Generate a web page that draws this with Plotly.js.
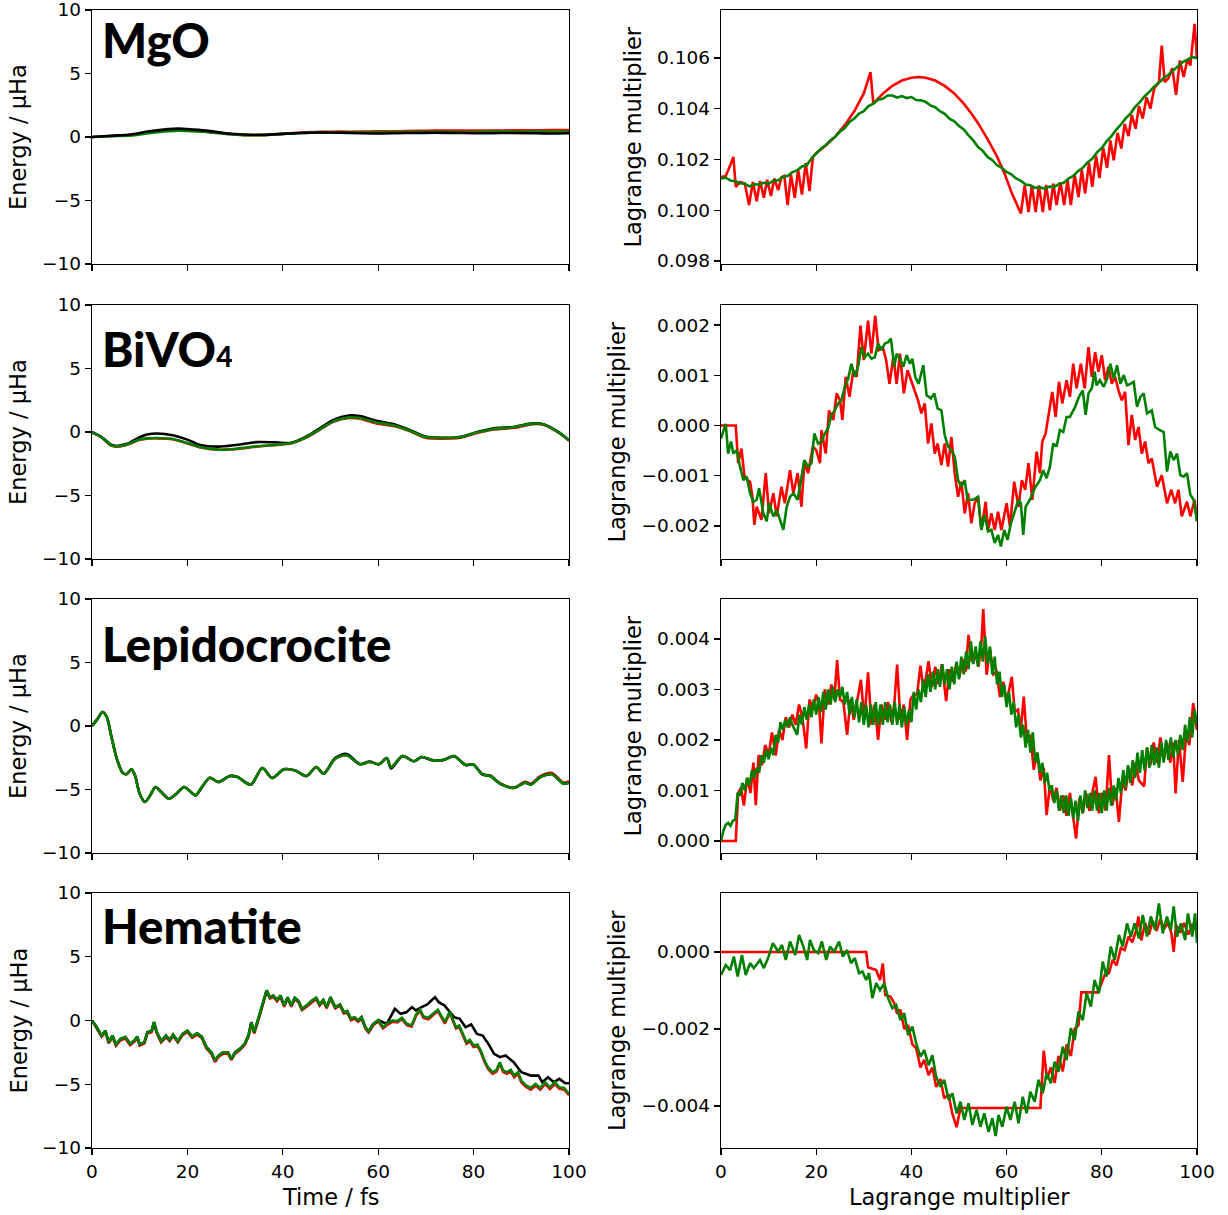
<!DOCTYPE html>
<html><head><meta charset="utf-8">
<script src="https://cdn.plot.ly/plotly-3.0.1.min.js"></script>
<style>html,body{margin:0;padding:0;background:#fff}#chart{width:1228px;height:1215px}</style>
</head><body><div id="chart"></div>
<script>
// ---------- tick labels / categories ----------
const timeTicks = [0, 20, 40, 60, 80, 100];
const energyTicks = [-10, -5, 0, 5, 10];
const materials = ['MgO', 'BiVO<span style="font-size:28px">4</span>', 'Lepidocrocite', 'Hematite'];

function grid(a, b, s) { const o = []; for (let v = a; v <= b + 1e-9; v += s) o.push(Math.round(v * 100) / 100); return o; }

// ---------- MgO : energy ----------
const mgoEx = [0,4,8,12,16,18,20,24,28,32,36,40,44,48,52,56,60,64,68,72,76,80,84,88,92,96,100];
const mgoEred = [0,0.08,0.15,0.35,0.5,0.52,0.5,0.42,0.25,0.15,0.15,0.25,0.35,0.4,0.42,0.42,0.45,0.45,0.48,0.5,0.5,0.5,0.5,0.52,0.52,0.55,0.55];
const mgoEgreen = [0,0.06,0.12,0.3,0.45,0.5,0.48,0.4,0.25,0.15,0.15,0.25,0.32,0.36,0.37,0.37,0.38,0.38,0.4,0.4,0.4,0.4,0.42,0.42,0.42,0.43,0.43];
const mgoEblack = [0,0.1,0.2,0.45,0.62,0.66,0.62,0.5,0.3,0.2,0.18,0.25,0.32,0.35,0.33,0.3,0.28,0.3,0.32,0.33,0.32,0.3,0.3,0.32,0.3,0.28,0.3];

// ---------- MgO : Lagrange multiplier ----------
const mgoLredX = [0,1,2,2.6,3.1,4,5,5.9,6.7,7.5,8.2,9,9.7,10.5,11.2,12,12.7,13.3,14,14.7,15.5,16.2,17,17.8,18.6,19.3,20,22,24,26,28,30,31.4,32,34,36,38,40,41.5,43,45,47,49,51,52.6,54,56,58,59.6,61,63,63.8,64.6,65.3,66.1,66.8,67.6,68.3,69.1,69.8,70.5,71.3,72.1,72.8,73.5,74.3,75.1,75.8,76.5,77.3,78,78.8,79.5,80.3,81.1,81.8,82.5,83.3,84.1,84.8,85.6,86.3,87.1,87.8,88.6,89.4,90.2,91,92,92.6,93.2,94,94.8,95.6,96.4,97.2,98,98.6,99.5,100];
const mgoLred = [0.10131,0.10135,0.1018,0.1021,0.10092,0.10111,0.10105,0.1002,0.10111,0.10035,0.10115,0.10049,0.1012,0.10056,0.10125,0.10079,0.1013,0.10135,0.1002,0.1014,0.10049,0.1016,0.10062,0.10185,0.10075,0.1021,0.10225,0.10255,0.1029,0.10335,0.1039,0.1046,0.10544,0.1042,0.10459,0.1049,0.10511,0.10522,0.10525,0.10522,0.10511,0.1049,0.1046,0.1042,0.10381,0.10343,0.1028,0.10211,0.10143,0.10072,0.09987,0.10098,0.09993,0.10098,0.09993,0.10098,0.09993,0.101,0.1,0.10105,0.1002,0.1011,0.1002,0.1012,0.1002,0.1014,0.10052,0.1016,0.10066,0.10185,0.10092,0.10215,0.10127,0.10245,0.10167,0.10275,0.10197,0.10305,0.10243,0.1034,0.10292,0.10375,0.10321,0.1041,0.10361,0.10445,0.104,0.1048,0.10505,0.10649,0.10505,0.1052,0.1056,0.10455,0.1059,0.10525,0.10595,0.1057,0.10734,0.10597];
const mgoLgreenX = grid(0, 100, 1);
const mgoLgreen = [0.10125,0.10128,0.10117,0.10114,0.10106,0.10104,0.10094,0.10102,0.10101,0.10108,0.10105,0.10116,0.10118,0.10131,0.10135,0.1015,0.10157,0.10172,0.10177,0.10204,0.10223,0.10243,0.10256,0.10276,0.10289,0.1031,0.10324,0.10348,0.10361,0.10381,0.1039,0.1041,0.1042,0.10435,0.10439,0.10452,0.10452,0.10444,0.1045,0.10442,0.10446,0.10434,0.10433,0.10427,0.10413,0.10406,0.1039,0.1038,0.10361,0.1035,0.10332,0.10318,0.10295,0.10275,0.10249,0.10234,0.1021,0.10197,0.10177,0.10167,0.10151,0.10141,0.10125,0.10116,0.10101,0.10098,0.10088,0.1009,0.10085,0.10093,0.10092,0.10103,0.10108,0.10125,0.10135,0.10154,0.10167,0.10188,0.10203,0.10228,0.10245,0.10271,0.10291,0.10317,0.10337,0.10362,0.1038,0.10407,0.10426,0.10449,0.10466,0.10488,0.10502,0.10521,0.10534,0.10552,0.10567,0.10584,0.10593,0.10604,0.10599];

// ---------- BiVO4 : energy ----------
const bivoEx = [0,2,4,5.2,7.2,10,11.5,13.7,16.9,20,22.5,26.5,30.5,34.5,38.6,41.8,45,48.2,50.6,53.8,56.2,59.4,63.5,66.7,69.9,73.1,77.1,80.3,84.3,88.4,92.4,94.8,98,100];
const bivoEred = [-0.05,-0.42,-1.07,-1.15,-1.02,-0.62,-0.52,-0.5,-0.57,-0.9,-1.2,-1.4,-1.33,-1.15,-1.02,-0.88,-0.42,0.28,0.8,1.1,1.05,0.7,0.45,0.05,-0.45,-0.52,-0.45,-0.12,0.2,0.33,0.62,0.55,-0.1,-0.68];
const bivoEgreen = [-0.05,-0.4,-1.05,-1.13,-1.0,-0.6,-0.5,-0.47,-0.55,-0.87,-1.18,-1.39,-1.31,-1.13,-1.0,-0.87,-0.4,0.31,0.84,1.15,1.1,0.76,0.5,0.1,-0.4,-0.47,-0.4,-0.08,0.24,0.37,0.66,0.58,-0.08,-0.66];
const bivoEblack = [0,-0.4,-1.0,-1.1,-0.95,-0.4,-0.2,-0.12,-0.25,-0.6,-1.0,-1.15,-1.0,-0.8,-0.82,-0.85,-0.35,0.4,0.95,1.3,1.25,0.9,0.6,0.15,-0.35,-0.45,-0.4,-0.05,0.3,0.4,0.68,0.6,-0.05,-0.66];

// ---------- BiVO4 : Lagrange multiplier ----------
const bivoLredX = [0,1,2,3.1,3.6,4.3,4.9,5.6,6.1,6.6,7,7.5,8.5,9.4,10.1,11,11.7,12.7,13.4,14.5,15.2,16.1,16.9,17.5,18.3,19.3,20,20.8,21.1,22,22.7,23.6,24.3,25,25.5,26.2,27,27.8,28.5,29.3,30,30.9,31.6,32.4,33.1,34,34.7,35.4,36.2,36.9,37.6,38.4,39.2,39.9,40.6,41.4,42.1,42.8,43.5,44.2,44.9,45.5,46.3,47,47.7,48.4,49.1,49.8,50.5,51.2,51.9,52.6,53.3,54,54.7,55.6,56.1,56.8,57.5,58.2,58.9,60,60.7,61.6,62.5,63.2,63.9,64.6,65.4,66.3,67,67.5,68.2,68.9,69.6,70.3,71,71.7,72.6,73.3,74,74.7,75.6,76.4,77.2,77.9,78.6,79.3,80,80.7,81.4,82.1,82.8,83.5,84.2,84.9,85.6,86.3,87,87.7,88.4,89.1,89.8,90.5,91.6,92.6,93.7,94.6,95.4,96.1,96.8,97.9,98.6,99.5,100];
const bivoLred = [0,0,0,0,-0.75e-3,-0.46e-3,-0.99e-3,-1.09e-3,-1.12e-3,-1.42e-3,-1.98e-3,-1.62e-3,-1.88e-3,-0.95e-3,-1.75e-3,-1.35e-3,-1.81e-3,-1.22e-3,-1.55e-3,-0.89e-3,-1.35e-3,-0.95e-3,-1.62e-3,-0.75e-3,-0.95e-3,-0.42e-3,-0.49e-3,-0.75e-3,-0.09e-3,-0.56e-3,0.3e-3,0.11e-3,0.64e-3,0.5e-3,0.11e-3,0.97e-3,0.57e-3,1.1e-3,0.97e-3,1.99e-3,1.3e-3,2.09e-3,1.43e-3,2.19e-3,1.5e-3,1.56e-3,1.3e-3,0.83e-3,1.36e-3,0.83e-3,1.43e-3,0.64e-3,1.1e-3,0.9e-3,0.7e-3,0.5e-3,0.24e-3,0.44e-3,-0.36e-3,0.04e-3,-0.56e-3,-0.36e-3,-0.79e-3,-0.36e-3,-0.82e-3,-0.23e-3,-0.95e-3,-1.42e-3,-1.12e-3,-1.75e-3,-1.35e-3,-1.95e-3,-1.55e-3,-1.42e-3,-2.08e-3,-1.52e-3,-2.08e-3,-1.75e-3,-2.08e-3,-1.72e-3,-2.08e-3,-1.55e-3,-2.01e-3,-1.12e-3,-1.62e-3,-1.09e-3,-1.28e-3,-0.75e-3,-1.48e-3,-0.52e-3,-0.95e-3,-0.32e-3,-0.16e-3,0.24e-3,0.67e-3,0.17e-3,0.87e-3,0.44e-3,0.9e-3,0.57e-3,1.23e-3,0.74e-3,1.23e-3,0.74e-3,1.56e-3,0.97e-3,1.46e-3,1.07e-3,1.4e-3,0.9e-3,1.17e-3,0.83e-3,0.97e-3,0.7e-3,0.5e-3,0.67e-3,-0.39e-3,0.21e-3,-0.29e-3,-0.03e-3,-0.56e-3,-0.32e-3,-0.75e-3,-0.66e-3,-1.22e-3,-0.99e-3,-1.55e-3,-1.28e-3,-1.55e-3,-1.28e-3,-1.81e-3,-1.52e-3,-1.81e-3,-1.48e-3,-1.91e-3];
const bivoLgreenX = [0,0.5,1,1.5,2.1,2.6,3.3,4,4.7,5.4,6.1,6.8,7.5,8,8.9,9.6,10.1,11,11.7,12.4,13.1,13.8,14.5,15.2,16.1,16.8,17.5,18.3,19,19.6,20.4,21.1,21.8,22.5,23.2,23.9,24.6,25.3,26,26.7,27.4,28.1,28.8,29.5,30.2,30.9,31.6,32.3,33,33.7,34.4,35.1,35.7,36.4,36.9,37.6,38.3,39,39.7,40.2,40.8,41.5,42.5,43.2,44.1,44.8,45.5,46.3,47,47.7,48.4,49.1,49.8,50.5,51.2,51.8,53,54,54.7,55.4,56.1,56.8,57.5,58.2,58.8,59.5,60.2,60.9,61.6,62.5,63,63.5,64,64.9,65.9,67,67.7,68.4,69.1,69.8,70.5,71.2,71.9,72.6,73.3,74.4,75.2,76,76.6,77.2,77.9,78.5,78.9,79.6,80.4,81.1,81.8,82.5,83.2,83.9,84.6,85.3,86,86.7,87.4,88.1,88.8,89.5,90.5,91.2,92.1,93,93.7,94.4,95.1,95.8,96.5,97.2,97.9,98.6,99.3,100];
const bivoLgreen = [-0.26e-3,-0.09e-3,0.03e-3,-0.56e-3,-0.32e-3,-0.56e-3,-0.49e-3,-0.82e-3,-1.09e-3,-1.02e-3,-1.35e-3,-1.52e-3,-1.48e-3,-1.25e-3,-1.75e-3,-1.91e-3,-1.55e-3,-1.81e-3,-1.68e-3,-1.88e-3,-2.08e-3,-1.62e-3,-1.42e-3,-1.35e-3,-1.48e-3,-1.09e-3,-0.69e-3,-0.82e-3,-0.75e-3,-0.16e-3,-0.36e-3,-0.32e-3,-0.16e-3,-0.06e-3,0.21e-3,0.3e-3,0.44e-3,0.5e-3,0.77e-3,0.93e-3,1.23e-3,0.97e-3,1.17e-3,1.56e-3,1.36e-3,1.43e-3,1.33e-3,1.36e-3,1.63e-3,1.5e-3,1.63e-3,1.66e-3,1.73e-3,1.17e-3,1.43e-3,1.33e-3,1.17e-3,1.4e-3,1.23e-3,1.33e-3,0.97e-3,0.83e-3,1.2e-3,0.6e-3,0.54e-3,0.64e-3,0.34e-3,0.3e-3,-0.19e-3,-0.42e-3,-0.49e-3,-0.62e-3,-1.09e-3,-1.22e-3,-1.09e-3,-1.48e-3,-1.48e-3,-1.42e-3,-2.08e-3,-1.78e-3,-2.11e-3,-2.08e-3,-2.34e-3,-2.18e-3,-2.41e-3,-2.08e-3,-2.28e-3,-1.95e-3,-1.75e-3,-1.48e-3,-1.55e-3,-2.18e-3,-1.62e-3,-1.48e-3,-1.25e-3,-1.09e-3,-0.89e-3,-1.05e-3,-0.82e-3,-0.36e-3,-0.42e-3,-0.09e-3,-0.13e-3,0.17e-3,0.17e-3,0.37e-3,0.57e-3,0.7e-3,0.21e-3,0.64e-3,0.74e-3,1.07e-3,0.8e-3,0.9e-3,0.77e-3,0.93e-3,1.23e-3,0.93e-3,1.2e-3,0.83e-3,1.0e-3,0.8e-3,0.83e-3,0.87e-3,0.37e-3,0.57e-3,0.64e-3,0.24e-3,0.3e-3,-0.03e-3,-0.09e-3,-0.13e-3,-0.92e-3,-0.52e-3,-0.69e-3,-0.56e-3,-0.99e-3,-1.02e-3,-0.95e-3,-1.38e-3,-1.48e-3,-1.91e-3];

// ---------- Lepidocrocite : energy ----------
const lepiEx = [0,1.2,2.2,3.1,4,5.2,6.4,7.2,8.3,9,10,11.1,12.2,13.3,14.5,16.1,17.7,19.3,20.5,21.7,23.3,24.7,26.5,28.9,30.5,33.3,35.7,37.8,40.2,42.6,45,47,48.6,51,53.4,56.2,58.2,60.2,61.8,62.7,65.1,67.5,69.1,71.5,73.9,75.9,78.3,79.9,81.9,83.5,85.5,88.4,90.8,92,94,96.4,98.8,100];
const lepiEred = [0,0.58,1.1,0.71,-0.73,-2.57,-3.67,-3.8,-3.41,-3.88,-5.33,-5.98,-5.46,-4.8,-5.2,-5.72,-5.33,-4.8,-5.12,-5.46,-4.67,-4.07,-4.41,-3.94,-4.02,-4.62,-3.31,-4.1,-3.41,-3.5,-3.94,-3.23,-3.75,-2.57,-2.31,-3.02,-2.83,-3.02,-2.52,-3.23,-2.36,-2.78,-2.44,-2.7,-2.65,-2.36,-3.07,-3.02,-3.8,-3.9,-4.5,-4.85,-4.4,-4.55,-3.95,-3.7,-4.45,-4.35];
const lepiEgreen = [0,0.58,1.1,0.71,-0.73,-2.57,-3.67,-3.8,-3.41,-3.88,-5.33,-5.98,-5.46,-4.8,-5.2,-5.72,-5.33,-4.8,-5.12,-5.46,-4.67,-4.07,-4.41,-3.94,-4.02,-4.62,-3.31,-4.1,-3.41,-3.5,-3.94,-3.23,-3.75,-2.57,-2.31,-3.02,-2.83,-3.02,-2.52,-3.23,-2.36,-2.78,-2.44,-2.7,-2.65,-2.36,-3.07,-3.02,-3.83,-3.94,-4.54,-4.88,-4.46,-4.62,-4.02,-3.8,-4.54,-4.49];
const lepiEblack = [0,0.58,1.1,0.71,-0.73,-2.57,-3.67,-3.8,-3.41,-3.88,-5.33,-5.98,-5.46,-4.8,-5.2,-5.72,-5.33,-4.8,-5.12,-5.46,-4.67,-4.07,-4.41,-3.94,-4.02,-4.62,-3.31,-4.1,-3.41,-3.5,-3.94,-3.23,-3.75,-2.5,-2.2,-3.0,-2.8,-3.0,-2.52,-3.35,-2.36,-2.78,-2.44,-2.7,-2.65,-2.36,-3.07,-3.02,-3.83,-3.94,-4.54,-4.88,-4.46,-4.62,-4.02,-3.8,-4.54,-4.49];

// ---------- Lepidocrocite : Lagrange multiplier ----------
const lepiLredX = [0,1,2,3.1,3.6,4.2,4.8,5.5,6.2,6.8,7.3,7.9,8.6,9.3,10,10.7,11.5,12.2,12.9,13.6,14.3,15,15.7,16.4,17.1,17.9,18.6,19.3,20,20.6,21.1,21.8,22.5,23.2,23.8,24.4,25,25.7,26.5,27.2,27.9,28.6,29.4,30.1,30.9,31.6,32.3,33,33.7,34.4,35.1,35.8,36.4,37,37.7,38.4,39.1,39.8,40.5,41.2,41.9,42.6,43.6,44.3,45,45.7,46.4,47.3,48,48.7,49.4,50.1,50.8,51.4,52,52.7,53.4,54.1,54.7,55.1,55.8,56.5,57.2,57.9,58.6,59.3,60,61.1,61.7,62.4,63,63.6,64.3,65,65.7,66.4,67.1,67.8,68.4,69.1,69.8,70.5,71.2,71.9,72.6,73.3,74,74.6,75.3,76,76.7,77.4,78.1,78.7,79.4,80.1,80.8,81.5,82.2,82.9,83.6,84.3,85,85.7,86.4,87.1,87.8,88.9,89.5,90.2,90.9,91.6,92.3,93,93.7,94.4,95,95.5,96.2,97,97.7,98.4,99.2,100];
const lepiLred = [0,0,0,0,0.95e-3,1.05e-3,0.7e-3,1.25e-3,0.95e-3,1.55e-3,0.71e-3,1.7e-3,1.5e-3,1.9e-3,1.7e-3,2.15e-3,1.69e-3,2.2e-3,2.0e-3,2.45e-3,2.25e-3,2.5e-3,2.3e-3,2.7e-3,2.45e-3,1.83e-3,2.8e-3,2.6e-3,2.9e-3,2.7e-3,1.93e-3,3.0e-3,2.7e-3,3.1e-3,2.8e-3,3.58e-3,2.8e-3,2.75e-3,2.1e-3,2.8e-3,2.4e-3,2.75e-3,3.19e-3,2.4e-3,3.34e-3,2.3e-3,2.7e-3,2.0e-3,2.7e-3,2.4e-3,2.75e-3,2.35e-3,2.7e-3,3.49e-3,2.4e-3,2.7e-3,2.0e-3,2.8e-3,2.9e-3,2.9e-3,3.47e-3,2.95e-3,3.56e-3,3.05e-3,3.45e-3,3.1e-3,3.5e-3,2.77e-3,3.4e-3,3.15e-3,3.5e-3,3.25e-3,3.6e-3,3.35e-3,4.08e-3,3.55e-3,3.7e-3,3.45e-3,3.9e-3,4.59e-3,3.29e-3,3.8e-3,3.3e-3,3.35e-3,2.85e-3,3.15e-3,2.75e-3,3.25e-3,2.55e-3,2.6e-3,2.2e-3,2.86e-3,1.95e-3,2.1e-3,1.41e-3,1.75e-3,1.2e-3,1.45e-3,0.51e-3,1.1e-3,0.8e-3,1.05e-3,0.6e-3,0.9e-3,0.5e-3,0.95e-3,0.45e-3,0.05e-3,0.85e-3,0.55e-3,0.95e-3,0.6e-3,1.0e-3,1.27e-3,0.55e-3,0.95e-3,0.6e-3,1.7e-3,0.7e-3,1.05e-3,0.38e-3,1.2e-3,1.0e-3,1.45e-3,1.1e-3,1.55e-3,1.2e-3,1.08e-3,1.85e-3,1.5e-3,1.95e-3,1.55e-3,2.05e-3,1.6e-3,1.95e-3,1.55e-3,1.95e-3,0.94e-3,2.0e-3,1.17e-3,2.1e-3,1.9e-3,2.73e-3,2.2e-3];
const lepiLgreenX = grid(0, 100, 0.5);
const lepiLgreen = [0,0.2e-3,0.32e-3,0.36e-3,0.3e-3,0.4e-3,0.42e-3,0.95e-3,0.9e-3,1.15e-3,1.0e-3,1.25e-3,1.1e-3,1.4e-3,1.25e-3,1.45e-3,1.35e-3,1.7e-3,1.55e-3,1.8e-3,1.62e-3,1.85e-3,1.7e-3,2.1e-3,1.95e-3,2.35e-3,2.2e-3,2.4e-3,2.25e-3,2.45e-3,2.3e-3,2.2e-3,2.1e-3,2.5e-3,2.3e-3,2.65e-3,2.4e-3,2.7e-3,2.45e-3,2.8e-3,2.5e-3,2.85e-3,2.55e-3,2.95e-3,2.6e-3,3.0e-3,2.7e-3,3.05e-3,2.75e-3,3.0e-3,2.85e-3,3.05e-3,2.7e-3,2.95e-3,2.5e-3,2.85e-3,2.45e-3,2.8e-3,2.35e-3,2.75e-3,2.3e-3,2.7e-3,2.25e-3,2.7e-3,2.3e-3,2.75e-3,2.3e-3,2.7e-3,2.3e-3,2.75e-3,2.35e-3,2.7e-3,2.3e-3,2.75e-3,2.3e-3,2.7e-3,2.25e-3,2.65e-3,2.3e-3,2.6e-3,2.35e-3,2.95e-3,2.6e-3,3.0e-3,2.75e-3,3.2e-3,2.85e-3,3.3e-3,2.95e-3,3.35e-3,3.0e-3,3.4e-3,3.05e-3,3.5e-3,3.1e-3,3.4e-3,3.0e-3,3.45e-3,3.1e-3,3.55e-3,3.2e-3,3.65e-3,3.3e-3,3.75e-3,3.4e-3,3.95e-3,3.5e-3,3.85e-3,3.45e-3,3.95e-3,3.55e-3,4.05e-3,3.5e-3,3.85e-3,3.3e-3,3.65e-3,3.1e-3,3.35e-3,2.85e-3,3.1e-3,2.65e-3,2.95e-3,2.5e-3,2.75e-3,2.25e-3,2.5e-3,2.05e-3,2.3e-3,1.85e-3,2.2e-3,1.75e-3,2.15e-3,1.55e-3,1.75e-3,1.35e-3,1.55e-3,1.15e-3,1.35e-3,1.0e-3,1.1e-3,0.75e-3,1.0e-3,0.6e-3,0.9e-3,0.55e-3,0.9e-3,0.5e-3,0.85e-3,0.45e-3,0.8e-3,0.4e-3,0.9e-3,0.55e-3,1.0e-3,0.65e-3,0.95e-3,0.6e-3,1.0e-3,0.6e-3,0.95e-3,0.55e-3,1.0e-3,0.6e-3,1.05e-3,0.7e-3,1.1e-3,0.8e-3,1.25e-3,0.95e-3,1.4e-3,1.05e-3,1.5e-3,1.15e-3,1.6e-3,1.25e-3,1.75e-3,1.35e-3,1.8e-3,1.4e-3,1.85e-3,1.45e-3,1.9e-3,1.5e-3,1.85e-3,1.45e-3,1.95e-3,1.55e-3,2.0e-3,1.6e-3,2.05e-3,1.65e-3,2.0e-3,1.7e-3,2.1e-3,1.8e-3,2.3e-3,1.95e-3,2.45e-3,2.05e-3,2.6e-3,2.3e-3];

// ---------- Hematite : energy ----------
const hemEx = [0,1,2,2.8,3.5,4.3,5,6,7,8,9,9.5,10,11,11.6,12.5,13,13.6,14.5,15.5,16.3,17,18,19,20,21,22,23,24,25,25.8,26.5,27.5,28.5,29.2,30,31,32,32.8,33.4,34,35,36,36.6,37.3,38,38.8,39.5,40.3,41,41.8,42.5,43.3,44,45,46,47,47.7,48.5,49.2,50,51,52,52.8,53.5,54.3,55,55.8,56.5,57.3,58,59,60,61,62,63,64,65,66,67,68,68.8,69.5,70.5,71.5,72.5,73.2,74,75,75.6,76.3,77,77.8,78.5,79.2,80,80.8,81.5,82.3,83,84,84.8,85.5,86.2,87,87.8,88.5,89.3,90,91,92,93,94,95,96,97,98,99,100];
const hemEgreen = [0,-0.52,-1.18,-0.8,-1.7,-1.18,-1.88,-1.44,-1.3,-1.83,-1.52,-1.26,-1.88,-1.7,-0.92,-0.8,-0.13,-0.92,-1.62,-1.18,-1.52,-1.1,-1.62,-1.05,-0.8,-1.26,-1.0,-1.26,-2.09,-2.49,-3.14,-2.75,-2.49,-2.49,-3.01,-2.49,-2.23,-1.83,-1.18,-0.13,-0.92,0.26,1.57,2.36,1.83,1.96,1.62,1.96,1.18,1.83,1.18,1.78,1.52,0.92,1.18,1.52,1.78,1.26,1.62,1.05,1.83,1.05,1.26,0.65,0.73,0.13,0.26,0,0.26,-0.52,-0.84,-0.26,0.05,-0.52,-0.21,0,-0.05,0.21,-0.26,-0.39,0.52,0.84,0.31,0.21,0.52,0.84,0.39,-0.13,0.71,0.13,-0.52,-0.39,-1.1,-1.7,-1.52,-1.96,-1.88,-2.36,-3.14,-3.66,-4.06,-3.87,-3.27,-3.93,-4.06,-3.87,-4.32,-4.06,-4.71,-5.1,-5.29,-4.97,-5.29,-4.84,-5.24,-4.84,-5.24,-5.29,-5.76];
const hemEred = [0,-0.6,-1.28,-0.9,-1.8,-1.3,-1.98,-1.55,-1.42,-1.93,-1.62,-1.38,-1.98,-1.8,-1.02,-0.92,-0.25,-1.02,-1.72,-1.3,-1.62,-1.2,-1.72,-1.15,-0.9,-1.36,-1.12,-1.36,-2.2,-2.6,-3.25,-2.86,-2.6,-2.58,-3.1,-2.6,-2.32,-1.93,-1.28,-0.25,-1.02,0.16,1.48,2.28,1.72,1.86,1.5,1.86,1.08,1.74,1.08,1.68,1.42,0.82,1.08,1.42,1.68,1.16,1.52,0.95,1.72,0.95,1.16,0.55,0.62,0.02,0.15,-0.1,0.15,-0.62,-0.95,-0.36,-0.05,-0.62,-0.32,-0.1,-0.15,0.1,-0.36,-0.48,0.42,0.74,0.2,0.1,0.42,0.74,0.28,-0.24,0.6,0.02,-0.62,-0.5,-1.22,-1.82,-1.64,-2.08,-2.0,-2.48,-3.26,-3.78,-4.18,-4.0,-3.4,-4.05,-4.18,-4.0,-4.45,-4.2,-4.84,-5.22,-5.42,-5.1,-5.42,-4.98,-5.38,-4.98,-5.36,-5.42,-5.86];
const hemEblackX = [0,1,2,2.8,3.5,4.3,5,6,7,8,9,9.5,10,11,11.6,12.5,13,13.6,14.5,15.5,16.3,17,18,19,20,21,22,23,24,25,25.8,26.5,27.5,28.5,29.2,30,31,32,32.8,33.4,34,35,36,36.6,37.3,38,38.8,39.5,40.3,41,41.8,42.5,43.3,44,45,46,47,47.7,48.5,49.2,50,51,52,52.8,53.5,54.3,55,55.8,56.5,57.3,58,59,60.2,61.8,63.5,64.7,65.9,67.1,67.9,69.1,70.3,71.9,72.7,73.9,75.1,75.9,77.1,78.3,79.5,80.7,81.9,83.1,84.3,85.5,86.7,88.4,90,92,93.6,94.4,95.6,96.8,98,99.2,100];
const hemEblack = [0,-0.52,-1.18,-0.8,-1.7,-1.18,-1.88,-1.44,-1.3,-1.83,-1.52,-1.26,-1.88,-1.7,-0.92,-0.8,-0.13,-0.92,-1.62,-1.18,-1.52,-1.1,-1.62,-1.05,-0.8,-1.26,-1.0,-1.26,-2.09,-2.49,-3.14,-2.75,-2.49,-2.49,-3.01,-2.49,-2.23,-1.83,-1.18,-0.13,-0.92,0.26,1.57,2.36,1.83,1.96,1.62,1.96,1.18,1.83,1.18,1.78,1.52,0.92,1.18,1.52,1.78,1.26,1.62,1.05,1.83,1.05,1.26,0.65,0.73,0.13,0.26,0,0.26,-0.52,-0.84,-0.26,0,-0.26,0.92,0.52,0.65,1.05,0.79,1.05,1.26,1.83,1.44,1.18,0.65,0.26,0.13,-0.52,-0.31,-1.05,-1.18,-1.83,-2.62,-2.88,-2.75,-3.27,-4.06,-4.32,-4.32,-4.84,-4.45,-4.84,-4.58,-4.92,-4.92];

// ---------- Hematite : Lagrange multiplier ----------
const hemLredX = [0,30.5,30.9,32.6,33.4,34,34.5,35.6,36.4,37,37.7,38.5,39.3,40.2,41,41.9,42.7,43.6,44.4,45.2,46.1,46.9,47.8,48.6,49.5,50.3,67.1,67.8,68.5,69.3,70.1,70.9,71.8,72.6,73.5,74.3,75.1,75.7,79.2,80,80.6,81.5,82.3,83.1,84,84.8,85.6,86.4,87.2,87.7,88.3,89.1,89.9,90.7,91.5,92.3,93.1,93.9,94.6,95.1,95.6,96.5,97.3,98.2,99,100];
const hemLred = [0,0,-0.4e-3,-0.47e-3,-0.73e-3,-0.3e-3,-1.12e-3,-1.16e-3,-1.33e-3,-1.6e-3,-1.5e-3,-2.0e-3,-1.9e-3,-2.4e-3,-2.5e-3,-3.0e-3,-2.8e-3,-3.2e-3,-3.0e-3,-3.5e-3,-3.3e-3,-3.8e-3,-3.7e-3,-4.2e-3,-4.55e-3,-4.05e-3,-4.05e-3,-2.56e-3,-3.3e-3,-3.0e-3,-3.4e-3,-2.7e-3,-3.1e-3,-2.4e-3,-2.7e-3,-2.0e-3,-1.9e-3,-1.05e-3,-1.05e-3,-0.8e-3,-0.6e-3,-0.55e-3,-0.2e-3,-0.35e-3,0.1e-3,0.05e-3,0.4e-3,0.25e-3,0.55e-3,0.92e-3,0.3e-3,0.75e-3,0.45e-3,0.8e-3,0.55e-3,0.85e-3,0.6e-3,0.75e-3,0.5e-3,0,0.7e-3,0.5e-3,0.75e-3,0.45e-3,0.7e-3,0.55e-3];
const hemLgreenX = [0,1,1.9,2.7,3.5,4.4,5.2,6.1,6.9,8.2,9,9.9,10.9,12,12.8,13.6,14.5,15.6,16.4,17.3,18.1,18.7,19.5,20.4,21.2,22.1,22.9,23.8,24.8,25.6,26.5,27.3,28.1,29,29.7,30.5,31.1,31.8,32.6,33.4,34.3,35.1,36,36.8,37.7,38.5,39.3,40.2,41,41.9,42.7,43.6,44.4,45.2,46.1,46.9,47.8,48.6,49.5,50.3,51.1,52,52.8,53.7,54.5,55.3,56.2,57,57.7,58.3,59.1,60,60.8,61.7,62.5,63.4,64.2,65,65.9,66.7,67.6,68.4,69.3,70.1,70.9,71.8,72.6,73.5,74.3,75.1,76,76.8,77.7,78.5,79.4,80.2,81,81.9,82.7,83.6,84.4,85.3,86.1,86.9,87.8,88.6,89.5,90.3,91.2,92,92.8,93.7,94.5,95.1,95.8,96.6,97.5,98.1,99,99.6,100];
const hemLgreen = [-0.6e-3,-0.34e-3,-0.47e-3,-0.12e-3,-0.64e-3,-0.08e-3,-0.6e-3,-0.29e-3,-0.42e-3,-0.21e-3,-0.42e-3,-0.16e-3,0.23e-3,0.01e-3,0.18e-3,-0.21e-3,0.27e-3,-0.08e-3,0.44e-3,0.14e-3,-0.21e-3,0.31e-3,0.05e-3,-0.03e-3,0.27e-3,-0.21e-3,0.14e-3,0.01e-3,0.27e-3,-0.12e-3,0.05e-3,-0.29e-3,-0.16e-3,-0.55e-3,-0.51e-3,-0.73e-3,-0.55e-3,-1.2e-3,-0.81e-3,-0.99e-3,-0.81e-3,-1.2e-3,-1.46e-3,-1.38e-3,-1.77e-3,-1.59e-3,-2.16e-3,-1.94e-3,-2.37e-3,-2.72e-3,-2.55e-3,-2.94e-3,-2.68e-3,-3.24e-3,-3.5e-3,-3.32e-3,-3.84e-3,-3.67e-3,-4.19e-3,-3.89e-3,-4.36e-3,-3.93e-3,-4.49e-3,-4.1e-3,-4.54e-3,-4.19e-3,-4.67e-3,-4.32e-3,-4.78e-3,-4.23e-3,-4.54e-3,-4.02e-3,-4.36e-3,-3.89e-3,-4.45e-3,-3.76e-3,-4.19e-3,-3.63e-3,-3.89e-3,-3.32e-3,-3.67e-3,-3.15e-3,-3.41e-3,-2.85e-3,-3.11e-3,-2.46e-3,-2.81e-3,-1.98e-3,-2.29e-3,-1.55e-3,-1.77e-3,-1.07e-3,-1.42e-3,-0.73e-3,-1.07e-3,-0.25e-3,-0.64e-3,0.14e-3,-0.21e-3,0.44e-3,0.14e-3,0.74e-3,0.4e-3,0.74e-3,0.35e-3,0.96e-3,0.4e-3,0.92e-3,0.57e-3,1.26e-3,0.48e-3,0.92e-3,0.57e-3,1.18e-3,0.4e-3,0.74e-3,0.31e-3,1.0e-3,0.4e-3,1.0e-3,0.23e-3];

// ---------- axis ranges / ticks for the right-hand panels ----------
const lagRanges = [[0.09788, 0.10789], [-0.00266, 0.0024], [-0.000238, 0.00479], [-0.00509, 0.00153]];
const lagTicks = [[0.098, 0.100, 0.102, 0.104, 0.106], [-0.002, -0.001, 0, 0.001, 0.002], [0, 0.001, 0.002, 0.003, 0.004], [-0.004, -0.002, 0]];

// ---------- geometry ----------
const W = 1228, H = 1215;
const rowTop = [10, 305, 599, 893], rowBot = [264, 559, 853, 1148];
const leftX = [92, 569], rightX = [721, 1197];
const px = v => v / W, py = v => 1 - v / H;

const RED = '#ff0000', GREEN = '#008000', BLACK = '#000000';
const LW = 2.6;
function tr(x, y, color, n, shape) {
  return {type: 'scatter', mode: 'lines', x: x, y: y, xaxis: 'x' + (n === 1 ? '' : n), yaxis: 'y' + (n === 1 ? '' : n),
          line: {color: color, width: LW, shape: shape || 'linear', smoothing: 0.8}, hoverinfo: 'skip', showlegend: false};
}

const data = [
  tr(mgoEx, mgoEred, RED, 1, 'spline'), tr(mgoEx, mgoEgreen, GREEN, 1, 'spline'), tr(mgoEx, mgoEblack, BLACK, 1, 'spline'),
  tr(mgoLredX, mgoLred, RED, 2), tr(mgoLgreenX, mgoLgreen, GREEN, 2),
  tr(bivoEx, bivoEred, RED, 3, 'spline'), tr(bivoEx, bivoEblack, BLACK, 3, 'spline'), tr(bivoEx, bivoEgreen, GREEN, 3, 'spline'),
  tr(bivoLredX, bivoLred, RED, 4), tr(bivoLgreenX, bivoLgreen, GREEN, 4),
  tr(lepiEx, lepiEred, RED, 5, 'spline'), tr(lepiEx, lepiEblack, BLACK, 5, 'spline'), tr(lepiEx, lepiEgreen, GREEN, 5, 'spline'),
  tr(lepiLredX, lepiLred, RED, 6), tr(lepiLgreenX, lepiLgreen, GREEN, 6),
  tr(hemEx, hemEred, RED, 7), tr(hemEblackX, hemEblack, BLACK, 7), tr(hemEx, hemEgreen, GREEN, 7),
  tr(hemLredX, hemLred, RED, 8), tr(hemLgreenX, hemLgreen, GREEN, 8)
];

const FONT = 'DejaVu Sans, sans-serif';
const axBase = {showline: true, mirror: true, linecolor: '#000', linewidth: 1.3, ticks: 'outside', ticklen: 6, tickwidth: 1.3,
  tickcolor: '#000', showgrid: false, zeroline: false, fixedrange: true, ticklabeloverflow: 'allow',
  tickfont: {family: FONT, size: 18.5, color: '#000'}};

const layout = {width: W, height: H, margin: {l: 0, r: 0, t: 0, b: 0}, paper_bgcolor: '#fff', plot_bgcolor: '#fff', showlegend: false, annotations: []};

for (let r = 0; r < 4; r++) {
  const nL = 2 * r + 1, nR = 2 * r + 2;
  const sL = nL === 1 ? '' : String(nL);
  const yd = [py(rowBot[r]), py(rowTop[r])];
  const last = r === 3;
  layout['xaxis' + sL] = Object.assign({}, axBase, {domain: [px(leftX[0]), px(leftX[1])], range: [0, 100], tickvals: timeTicks, showticklabels: last, anchor: 'y' + sL});
  layout['yaxis' + sL] = Object.assign({}, axBase, {domain: yd, range: [-10, 10], tickvals: energyTicks, anchor: 'x' + sL});
  layout['xaxis' + nR] = Object.assign({}, axBase, {domain: [px(rightX[0]), px(rightX[1])], range: [0, 100], tickvals: timeTicks, showticklabels: last, anchor: 'y' + nR});
  layout['yaxis' + nR] = Object.assign({}, axBase, {domain: yd, range: lagRanges[r], tickvals: lagTicks[r], tickformat: '.3f', anchor: 'x' + nR});

  const yc = py((rowTop[r] + rowBot[r]) / 2);
  layout.annotations.push({xref: 'paper', yref: 'paper', x: px(18), y: yc, text: 'Energy / μHa', textangle: -90, showarrow: false,
    xanchor: 'center', yanchor: 'middle', font: {family: FONT, size: 22.5, color: '#000'}});
  const rx = (r === 0 || r === 2) ? 632.5 : 616.5;
  layout.annotations.push({xref: 'paper', yref: 'paper', x: px(rx), y: yc, text: 'Lagrange multiplier', textangle: -90, showarrow: false,
    xanchor: 'center', yanchor: 'middle', font: {family: FONT, size: 22.5, color: '#000'}});
}

// material names
const capOffset = [12, 26, 27, 15];
for (let r = 0; r < 4; r++) {
  layout.annotations.push({xref: 'paper', yref: 'paper', x: px(100), y: py(rowTop[r] + capOffset[r] - 13), text: materials[r], showarrow: false,
    xanchor: 'left', yanchor: 'top', font: {family: 'Lato, sans-serif', size: 47.5, weight: 900, color: '#000'}});
}
// x-axis titles
layout.annotations.push({xref: 'paper', yref: 'paper', x: px((leftX[0] + leftX[1]) / 2), y: py(1197), text: 'Time / fs', showarrow: false,
  xanchor: 'center', yanchor: 'middle', font: {family: FONT, size: 22.5, color: '#000'}});
layout.annotations.push({xref: 'paper', yref: 'paper', x: px((rightX[0] + rightX[1]) / 2), y: py(1197), text: 'Lagrange multiplier', showarrow: false,
  xanchor: 'center', yanchor: 'middle', font: {family: FONT, size: 22.5, color: '#000'}});

Plotly.newPlot('chart', data, layout, {displayModeBar: false, staticPlot: true});
</script></body></html>
